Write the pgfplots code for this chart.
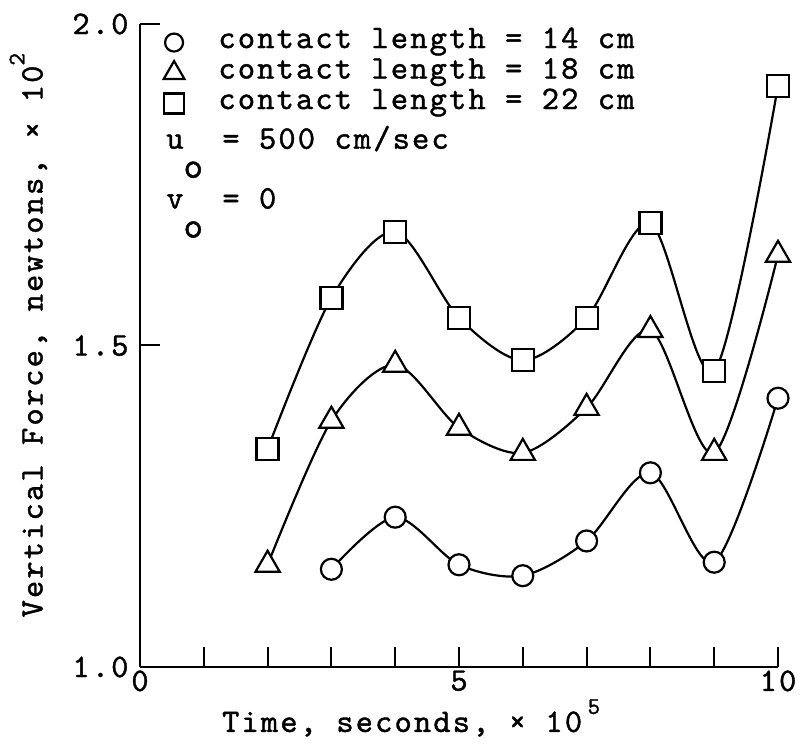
\documentclass[border=0pt]{standalone}
\usepackage{pgfplots}
\pgfplotsset{compat=1.18}
\usepackage{fontspec}
\setmonofont{lmmono10-regular.otf}[LetterSpace=6.5, FakeBold=1.2]
\renewcommand{\familydefault}{\ttdefault}
\newcommand{\supr}[1]{\raisebox{0.55em}{\fontsize{24}{24}\selectfont #1}}
\newcommand{\subo}{\raisebox{-29bp}{\fontsize{37}{37}\selectfont o}}
\begin{document}
\begin{tikzpicture}
\useasboundingbox (-140bp,-84bp) rectangle (661bp,667bp);
\begin{axis}[
  scale only axis, width=638bp, height=643bp,
  xmin=0, xmax=10, ymin=1, ymax=2,
  axis lines=left,
  axis line style={-, line width=2.5bp},
  xtick={0,1,...,10}, xticklabels={0,,,,,5,,,,,10},
  ytick={1,1.5,2}, yticklabels={1.0,1.5,2.0},
  tick align=inside, major tick length=20bp,
  tick style={line width=2bp, black},
  /pgf/number format/assume math mode=true,
  font=\ttfamily\fontsize{33}{33}\selectfont,
  yticklabel style={xshift=-8bp},
  xlabel={Time, seconds, × 10\,\supr{5}},
  xlabel style={at={(axis description cs:0.425,-0.101)}, anchor=base},
  ylabel={Vertical Force, newtons, × 10\supr{2}},
  ylabel style={at={(axis description cs:-0.175,0.516)}, anchor=center},
  legend style={draw=none, fill=none, at={(axis description cs:0.0368,0.994)}, anchor=north west,
    inner xsep=0pt, inner ysep=0pt, row sep=1.5bp,
    nodes={inner sep=0pt, text height=20bp, text depth=9bp},
    /tikz/every odd column/.append style={column sep=34bp},
    font=\ttfamily\fontsize{33}{33}\selectfont},
  legend cell align=left,
  every axis plot/.append style={line width=2.2bp, black, smooth},
]
% contact length = 14 cm
\addplot[forget plot, mark=*, mark size=10.5bp, mark options={fill=white, line width=2.2bp}] coordinates {
 (3,1.152) (4,1.233) (5,1.159) (6,1.142) (7,1.196) (8,1.302) (9,1.163) (10,1.418)};
% contact length = 18 cm
\addplot[forget plot, mark=triangle*, mark size=14bp, mark options={fill=white, line width=2.2bp}] coordinates {
 (2,1.159) (3,1.383) (4,1.470) (5,1.372) (6,1.333) (7,1.403) (8,1.524) (9,1.333) (10,1.641)};
% contact length = 22 cm
\addplot[forget plot, mark=square*, mark size=11bp, mark options={fill=white, line width=2.2bp}] coordinates {
 (2,1.339) (3,1.574) (4,1.677) (5,1.543) (6,1.477) (7,1.543) (8,1.690) (9,1.460) (10,1.904)};
\addlegendimage{only marks, mark=*, mark size=9bp, mark options={fill=white, line width=2.2bp}}
\addlegendentry{contact length = 14 cm}
\addlegendimage{only marks, mark=triangle*, mark size=12bp, mark options={fill=white, line width=2.2bp}}
\addlegendentry{contact length = 18 cm}
\addlegendimage{only marks, mark=square*, mark size=10bp, mark options={fill=white, line width=2.2bp}}
\addlegendentry{contact length = 22 cm}
\node[anchor=base west, inner sep=0pt] at (axis cs:0.41,1.806) {u\subo{} = 500 cm/sec};
\node[anchor=base west, inner sep=0pt] at (axis cs:0.41,1.713) {v\subo{} = 0};
\end{axis}
\end{tikzpicture}
\end{document}
